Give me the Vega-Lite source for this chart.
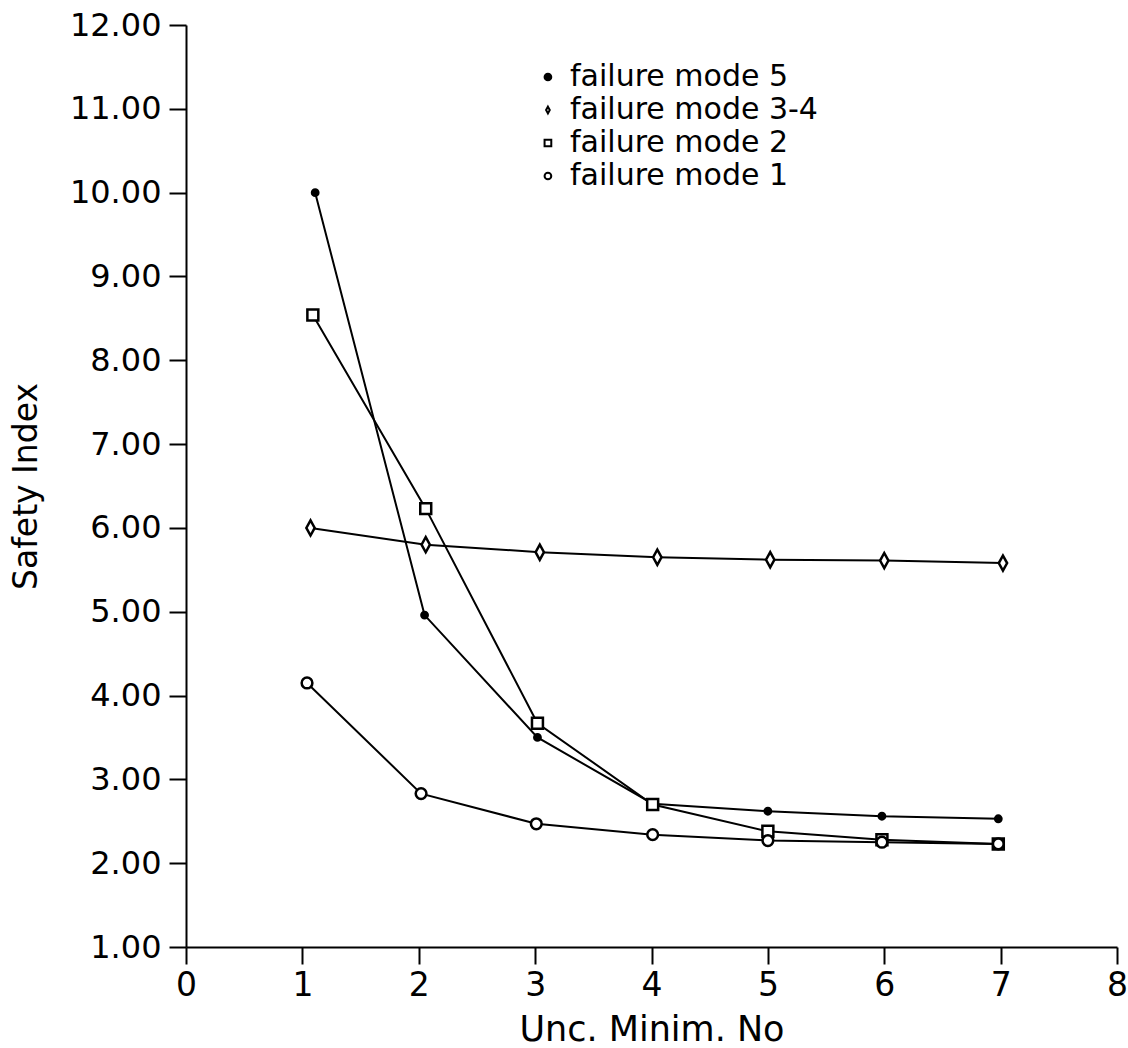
{
  "$schema": "https://vega.github.io/schema/vega-lite/v6.json",
  "autosize": "none",
  "width": 931,
  "height": 922,
  "padding": {"left": 186, "top": 25, "right": 11, "bottom": 101},
  "background": "white",
  "config": {
    "view": {"stroke": null},
    "font": "DejaVu Sans",
    "axis": {"grid": false, "domainColor": "black", "domainWidth": 2, "tickColor": "black", "tickWidth": 2, "labelColor": "black", "titleColor": "black", "labelFont": "DejaVu Sans", "titleFont": "DejaVu Sans", "titleFontWeight": "normal"}
  },
  "resolve": {"scale": {"y": "independent"}, "axis": {"y": "independent"}},
  "layer": [
    {
      "data": {
        "values": [
          {"mode": "failure mode 5", "x": 1.11, "y": 10.0},
          {"mode": "failure mode 5", "x": 2.05, "y": 4.96},
          {"mode": "failure mode 5", "x": 3.02, "y": 3.5},
          {"mode": "failure mode 5", "x": 4.01, "y": 2.71},
          {"mode": "failure mode 5", "x": 5.0, "y": 2.62},
          {"mode": "failure mode 5", "x": 5.98, "y": 2.56},
          {"mode": "failure mode 5", "x": 6.98, "y": 2.53},
          {"mode": "failure mode 3-4", "x": 1.07, "y": 6.0},
          {"mode": "failure mode 3-4", "x": 2.06, "y": 5.8},
          {"mode": "failure mode 3-4", "x": 3.04, "y": 5.71},
          {"mode": "failure mode 3-4", "x": 4.05, "y": 5.65},
          {"mode": "failure mode 3-4", "x": 5.02, "y": 5.62},
          {"mode": "failure mode 3-4", "x": 6.0, "y": 5.61},
          {"mode": "failure mode 3-4", "x": 7.02, "y": 5.58},
          {"mode": "failure mode 2", "x": 1.09, "y": 8.54},
          {"mode": "failure mode 2", "x": 2.06, "y": 6.23},
          {"mode": "failure mode 2", "x": 3.02, "y": 3.67},
          {"mode": "failure mode 2", "x": 4.01, "y": 2.7},
          {"mode": "failure mode 2", "x": 5.0, "y": 2.38},
          {"mode": "failure mode 2", "x": 5.98, "y": 2.28},
          {"mode": "failure mode 2", "x": 6.98, "y": 2.23},
          {"mode": "failure mode 1", "x": 1.04, "y": 4.15},
          {"mode": "failure mode 1", "x": 2.02, "y": 2.83},
          {"mode": "failure mode 1", "x": 3.01, "y": 2.47},
          {"mode": "failure mode 1", "x": 4.01, "y": 2.34},
          {"mode": "failure mode 1", "x": 5.0, "y": 2.27},
          {"mode": "failure mode 1", "x": 5.98, "y": 2.25},
          {"mode": "failure mode 1", "x": 6.98, "y": 2.23}
        ]
      },
      "encoding": {
        "x": {
          "field": "x", "type": "quantitative",
          "scale": {"domain": [0, 8], "nice": false, "zero": false},
          "axis": {"title": "Unc. Minim. No", "values": [0,1,2,3,4,5,6,7,8], "format": "d", "tickSize": 17, "labelFontSize": 33, "labelPadding": 5, "titleFontSize": 35, "titlePadding": 10, "labelFlush": false}
        },
        "y": {
          "field": "y", "type": "quantitative",
          "scale": {"domain": [1, 12], "nice": false, "zero": false},
          "axis": {"title": "Safety Index", "orient": "left", "values": [1,2,3,4,5,6,7,8,9,10,11,12], "format": ".2f", "tickSize": 17, "labelFontSize": 32, "labelPadding": 8, "titleFontSize": 33, "titlePadding": 26, "labelFlush": false}
        }
      },
      "layer": [
        {
          "mark": {"type": "line", "color": "black", "strokeWidth": 2},
          "encoding": {"detail": {"field": "mode"}, "order": {"field": "x"}}
        },
        {
          "mark": {"type": "point", "filled": false, "color": "black", "strokeWidth": 2.5, "opacity": 1},
          "encoding": {
            "shape": {
              "field": "mode", "type": "nominal",
              "scale": {"domain": ["failure mode 5", "failure mode 3-4", "failure mode 2", "failure mode 1"], "range": ["circle", "M0,-1L0.55,0L0,1L-0.55,0Z", "square", "circle"]},
              "legend": null
            },
            "fill": {
              "condition": {"test": "datum.mode === 'failure mode 5'", "value": "black"},
              "value": "white"
            },
            "size": {
              "condition": [
                {"test": "datum.mode === 'failure mode 5'", "value": 40},
                {"test": "datum.mode === 'failure mode 3-4'", "value": 230},
                {"test": "datum.mode === 'failure mode 2'", "value": 120}
              ],
              "value": 115
            }
          }
        }
      ]
    },
    {
      "data": {
        "values": [
          {"mode": "failure mode 5"},
          {"mode": "failure mode 3-4"},
          {"mode": "failure mode 2"},
          {"mode": "failure mode 1"}
        ]
      },
      "encoding": {
        "y": {
          "field": "mode", "type": "nominal",
          "scale": {"type": "point", "domain": ["failure mode 5", "failure mode 3-4", "failure mode 2", "failure mode 1"], "range": [52, 151], "padding": 0},
          "axis": null
        }
      },
      "layer": [
        {
          "mark": {"type": "point", "filled": false, "color": "black", "strokeWidth": 2, "opacity": 1, "size": 45},
          "encoding": {
            "x": {"datum": 3.11, "type": "quantitative"},
            "shape": {
              "field": "mode", "type": "nominal",
              "scale": {"domain": ["failure mode 5", "failure mode 3-4", "failure mode 2", "failure mode 1"], "range": ["circle", "M0,-1L0.55,0L0,1L-0.55,0Z", "square", "circle"]},
              "legend": null
            },
            "fill": {
              "condition": {"test": "datum.mode === 'failure mode 5'", "value": "black"},
              "value": "white"
            }
          }
        },
        {
          "mark": {"type": "text", "align": "left", "baseline": "middle", "fontSize": 30, "font": "DejaVu Sans", "color": "black"},
          "encoding": {
            "x": {"datum": 3.3, "type": "quantitative"},
            "text": {"field": "mode"}
          }
        }
      ]
    }
  ]
}
